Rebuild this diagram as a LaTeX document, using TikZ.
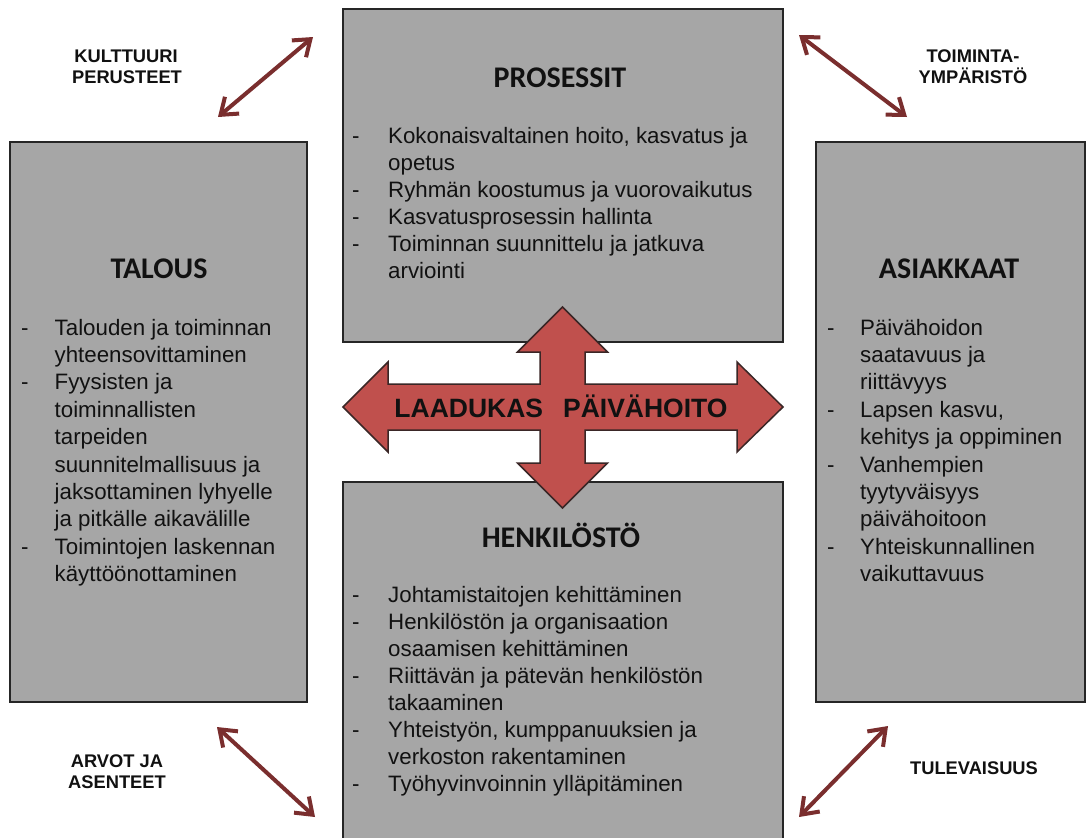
\documentclass[tikz,border=0pt]{standalone}
\usepackage{fontspec}
\setmainfont{Liberation Sans}
\newfontfamily\titlefont{Carlito}
\usetikzlibrary{arrows.meta}
\definecolor{boxgray}{HTML}{A6A6A6}
\definecolor{boxline}{HTML}{262626}
\definecolor{linkred}{HTML}{7A2E2E}
\definecolor{crossfill}{HTML}{C0504D}
\definecolor{crossline}{HTML}{3A2626}
\definecolor{ink}{HTML}{111111}
\tikzset{
  box/.style={draw=boxline, line width=2.5pt, fill=boxgray, inner sep=0pt},
  body/.style={anchor=base west, inner sep=0pt, font=\fontsize{22.3}{26}\selectfont, text=ink},
  title/.style={anchor=base, inner sep=0pt, font=\titlefont\bfseries\fontsize{30}{34}\selectfont, text=ink},
  lbl/.style={anchor=base, inner sep=0pt, font=\bfseries\fontsize{18.3}{21}\selectfont, text=ink},
  link/.style={draw=linkred, line width=4pt, >={Straight Barb[length=15pt,width=22pt]}, <->},
  cross/.style={fill=crossfill, draw=crossline, line width=1.5pt, line join=miter},
  crosstext/.style={anchor=base, inner sep=0pt, font=\bfseries\fontsize{26.5}{30}\selectfont, text=ink}
}
\begin{document}
\begin{tikzpicture}[x=1pt, y=-1pt]
\useasboundingbox (0,0) rectangle (1087,838);
\clip (0,0) rectangle (1087,838);
\fill[white] (0,0) rectangle (1087,838);

% boxes
\node[box, minimum width=440pt, minimum height=333pt] (prosessit) at (563,175.5) {};
\node[box, minimum width=297pt, minimum height=560pt] (talous) at (158.5,422) {};
\node[box, minimum width=269pt, minimum height=560pt] (asiakkaat) at (950.5,422) {};
\node[box, minimum width=440pt, minimum height=368pt] (henkilosto) at (563,666) {};

% titles
\node[title] (tp) at (560,87) {PROSESSIT};
\node[title] (tt) at (159,278) {TALOUS};
\node[title] (ta) at (949,278) {ASIAKKAAT};
\node[title] (th) at (561,547) {HENKILÖSTÖ};

% PROSESSIT items
\foreach \t [count=\i] in {{Kokonaisvaltainen hoito, kasvatus ja},{opetus},{Ryhmän koostumus ja vuorovaikutus},{Kasvatusprosessin hallinta},{Toiminnan suunnittelu ja jatkuva},{arviointi}}
  \node[body] (p\i) at (388,{143+27*(\i-1)}) {\t};
\foreach \i in {1,3,4,5}
  \node[body] (pd\i) at (352,{143+27*(\i-1)}) {-};

% TALOUS items
\foreach \t [count=\i] in {{Talouden ja toiminnan},{yhteensovittaminen},{Fyysisten ja},{toiminnallisten},{tarpeiden},{suunnitelmallisuus ja},{jaksottaminen lyhyelle},{ja pitkälle aikavälille},{Toimintojen laskennan},{käyttöönottaminen}}
  \node[body] (t\i) at (54.5,{335+27.4*(\i-1)}) {\t};
\foreach \i in {1,3,9}
  \node[body] (td\i) at (21,{335+27.4*(\i-1)}) {-};

% ASIAKKAAT items
\foreach \t [count=\i] in {{Päivähoidon},{saatavuus ja},{riittävyys},{Lapsen kasvu,},{kehitys ja oppiminen},{Vanhempien},{tyytyväisyys},{päivähoitoon},{Yhteiskunnallinen},{vaikuttavuus}}
  \node[body] (a\i) at (860,{335+27.4*(\i-1)}) {\t};
\foreach \i in {1,4,6,9}
  \node[body] (ad\i) at (827,{335+27.4*(\i-1)}) {-};

% HENKILOSTO items
\foreach \t [count=\i] in {{Johtamistaitojen kehittäminen},{Henkilöstön ja organisaation},{osaamisen kehittäminen},{Riittävän ja pätevän henkilöstön},{takaaminen},{Yhteistyön, kumppanuuksien ja},{verkoston rakentaminen},{Työhyvinvoinnin ylläpitäminen}}
  \node[body] (h\i) at (388,{602+27.1*(\i-1)}) {\t};
\foreach \i in {1,2,4,6,8}
  \node[body] (hd\i) at (352,{602+27.1*(\i-1)}) {-};

% central cross arrow
\draw[cross] (562.5,307) -- (607.5,352) -- (585,352) -- (585,384) -- (737,384) -- (737,362)
  -- (783,407) -- (737,452) -- (737,430) -- (585,430) -- (585,463) -- (607.5,463)
  -- (562.5,508) -- (517.5,463) -- (540,463) -- (540,430) -- (388,430) -- (388,452)
  -- (343,407) -- (388,362) -- (388,384) -- (540,384) -- (540,352) -- (517.5,352) -- cycle;
\node[crosstext] (laatu) at (561,417) {LAADUKAS\hspace{20pt}PÄIVÄHOITO};

% corner labels
\node[lbl] (kult1) at (126,62) {KULTTUURI};
\node[lbl] (kult2) at (127,83) {PERUSTEET};
\node[lbl] (toim1) at (973,62) {TOIMINTA-};
\node[lbl] (toim2) at (973,83) {YMPÄRISTÖ};
\node[lbl] (arvo1) at (117,767) {ARVOT JA};
\node[lbl] (arvo2) at (117,788) {ASENTEET};
\node[lbl] (tule) at (974,774) {TULEVAISUUS};

% diagonal double arrows
\coordinate (tla) at (218,117); \coordinate (tlb) at (313,37);
\coordinate (tra) at (799,35);  \coordinate (trb) at (907,117);
\coordinate (bla) at (217,727); \coordinate (blb) at (315,817);
\coordinate (bra) at (888,726); \coordinate (brb) at (799,817);
\draw[link] (tla) -- (tlb);
\draw[link] (tra) -- (trb);
\draw[link] (bla) -- (blb);
\draw[link] (bra) -- (brb);
\end{tikzpicture}
\end{document}
